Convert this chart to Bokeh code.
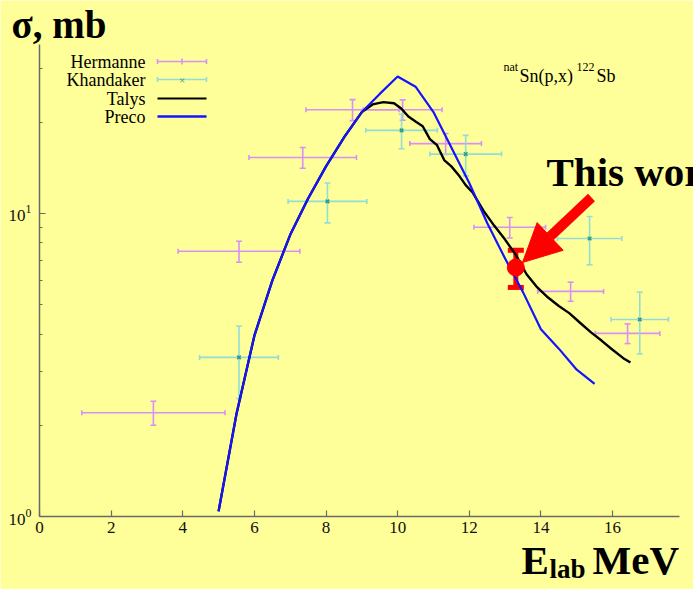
import math
from bokeh.plotting import figure
from bokeh.models import (Range1d, FixedTicker, LogTickFormatter, Whisker, TeeHead,
                          ColumnDataSource, Label, Arrow, NormalHead)
from bokeh.embed import file_html
from bokeh.resources import INLINE

# ---------------- data ----------------
talys_e = [5.0, 5.5, 6.0, 6.5, 7.0, 7.5, 8.0, 8.5, 9.0, 9.3, 9.6, 9.9, 10.1, 10.3, 10.5,
           10.7, 10.9, 11.1, 11.3, 11.5, 11.7, 11.9, 12.1, 12.4, 12.7, 13.0, 13.3, 13.6,
           13.9, 14.2, 14.5, 14.8, 15.1, 15.4, 15.7, 16.0, 16.3, 16.5]
talys_xs = [1.04, 2.18, 3.95, 6.0, 8.5, 11.2, 14.3, 17.8, 21.6, 22.9, 23.3, 23.1, 22.2, 20.9, 20.1,
            19.4, 17.6, 16.8, 15.0, 14.3, 13.4, 12.4, 11.7, 10.2, 9.1, 8.2, 7.3, 6.3,
            5.7, 5.28, 4.95, 4.68, 4.35, 4.05, 3.8, 3.55, 3.33, 3.22]

preco_e = [5.0, 5.5, 6.0, 6.5, 7.0, 7.5, 8.0, 8.5, 9.0, 9.5, 10.0, 10.5, 11.0, 11.5,
           12.0, 12.5, 13.0, 13.5, 14.0, 14.5, 15.0, 15.5]
preco_xs = [1.04, 2.18, 3.95, 6.0, 8.5, 11.2, 14.3, 17.8, 21.6, 24.8, 28.3, 26.2, 21.6, 16.5,
            12.6, 9.3, 7.1, 5.5, 4.15, 3.58, 3.05, 2.74]

herm_e = [3.18, 5.57, 7.35, 8.74, 10.14, 11.34, 13.13, 14.83, 16.42]
herm_de = [2.0, 1.7, 1.5, 1.3, 1.1, 1.0, 1.0, 0.92, 0.9]
herm_xs = [2.2, 7.5, 15.3, 22.0, 22.0, 17.0, 9.0, 5.53, 4.02]
herm_dxs = [0.2, 0.6, 1.2, 1.75, 1.7, 1.35, 0.7, 0.4, 0.3]

khan_e = [5.57, 8.04, 10.11, 11.9, 15.36, 16.76]
khan_de = [1.1, 1.1, 1.0, 1.0, 0.9, 0.8]
khan_xs = [3.35, 10.96, 18.8, 15.7, 8.27, 4.47]
khan_dxs = [0.9, 1.65, 2.45, 2.4, 1.5, 1.03]

this_e = [13.3]
this_xs = [6.63]
this_dxs = [0.93]

x_ticks = [0, 2, 4, 6, 8, 10, 12, 14, 16]
y_ticks = [1, 10]
y_minor = [2, 3, 4, 5, 6, 7, 8, 9, 20, 30]

legend_names = ["Hermanne", "Khandaker", "Talys", "Preco"]

# ---------------- style / layout ----------------
BG = "#FFFF99"
HERM_C = "#d890f8"
KHAN_C = "#94dcd8"
KHAN_M = "#2e9c7a"
PRECO_C = "#1414ff"
RED = "#FF0000"
SERIF = "Liberation Serif"
W, H = 693, 589

X_MAX = 17.87
Y_MAX = 36.1
FL, FR, FT, FB = 39, 679, 44, 516          # pixel box of the axes
PX_X = (FR - FL) / X_MAX
PX_DEC = (FB - FT) / math.log10(Y_MAX)


def dx(px):
    return (px - FL) / PX_X


def dy(py):
    return 10 ** ((FB - py) / PX_DEC)


# the frame covers the whole canvas; the axes sit at fixed data locations
p = figure(width=W, height=H, x_range=Range1d(dx(0), dx(W)), y_range=Range1d(dy(H), dy(0)),
           y_axis_type="log", output_backend="svg", toolbar_location=None,
           min_border=0, background_fill_color=BG, border_fill_color=BG,
           outline_line_color=None)
p.grid.visible = False

xa, ya = p.xaxis[0], p.yaxis[0]
xa.fixed_location = 1
ya.fixed_location = 0
xa.bounds = (0, X_MAX)
ya.bounds = (1, Y_MAX)

for ax in (xa, ya):
    ax.axis_line_color = "#6a6a6a"
    ax.axis_line_width = 1.5
    ax.major_tick_line_color = "#6a6a6a"
    ax.major_tick_line_width = 1.2
    ax.minor_tick_line_color = "#6a6a6a"
    ax.major_tick_in = 6
    ax.major_tick_out = 0
    ax.minor_tick_in = 3
    ax.minor_tick_out = 0
    ax.major_label_text_font = SERIF
    ax.major_label_text_font_size = "17px"
    ax.major_label_text_color = "#111111"

xa.ticker = FixedTicker(ticks=x_ticks, minor_ticks=[])
xa.major_label_standoff = 5
ya.ticker = FixedTicker(ticks=y_ticks, minor_ticks=y_minor)
ya.formatter = LogTickFormatter()
ya.major_label_standoff = 8

# ---------------- error bars ----------------
def add_errbars(e, de, xs, dxs, color, cap):
    src = ColumnDataSource(dict(
        x=e, y=xs,
        xl=[a - b for a, b in zip(e, de)], xh=[a + b for a, b in zip(e, de)],
        yl=[a - b for a, b in zip(xs, dxs)], yh=[a + b for a, b in zip(xs, dxs)]))
    wh = Whisker(source=src, base="y", lower="xl", upper="xh", dimension="width",
                 line_color=color, line_width=1.6, level="underlay",
                 lower_head=TeeHead(size=cap, line_color=color, line_width=1.6),
                 upper_head=TeeHead(size=cap, line_color=color, line_width=1.6))
    wv = Whisker(source=src, base="x", lower="yl", upper="yh", dimension="height",
                 line_color=color, line_width=1.6, level="underlay",
                 lower_head=TeeHead(size=cap + 1, line_color=color, line_width=1.6),
                 upper_head=TeeHead(size=cap + 1, line_color=color, line_width=1.6))
    p.add_layout(wh)
    p.add_layout(wv)
    return src


add_errbars(herm_e, herm_de, herm_xs, herm_dxs, HERM_C, 5)
ksrc = add_errbars(khan_e, khan_de, khan_xs, khan_dxs, KHAN_C, 5)
p.scatter("x", "y", source=ksrc, marker="x", size=5, line_color=KHAN_M, line_width=1.5)

# ---------------- model curves ----------------
p.line(talys_e, talys_xs, line_color="black", line_width=2.4)
p.line(preco_e, preco_xs, line_color=PRECO_C, line_width=2.2)

# ---------------- this work ----------------
tsrc = ColumnDataSource(dict(x=this_e, y=this_xs,
                             yl=[a - b for a, b in zip(this_xs, this_dxs)],
                             yh=[a + b for a, b in zip(this_xs, this_dxs)]))
p.scatter("x", "y", source=tsrc, marker="circle", size=17, fill_color=RED, line_color=RED)
p.add_layout(Whisker(source=tsrc, base="x", lower="yl", upper="yh", dimension="height",
                     line_color=RED, line_width=5,
                     lower_head=TeeHead(size=16, line_color=RED, line_width=5),
                     upper_head=TeeHead(size=16, line_color=RED, line_width=5)))

p.add_layout(Arrow(x_start=dx(591), y_start=dy(197), x_end=dx(522), y_end=dy(262),
                   line_color=RED, line_width=10,
                   end=NormalHead(size=38, fill_color=RED, line_color=RED)))

# ---------------- texts ----------------
def lab(text, px, py, size, bold=False, align="left", baseline="alphabetic", color="black"):
    p.add_layout(Label(x=dx(px), y=dy(py), text=text, text_font=SERIF,
                       text_font_size=f"{size}px",
                       text_font_style="bold" if bold else "normal",
                       text_align=align, text_baseline=baseline, text_color=color))


lab("σ, mb", 11, 24, 39, bold=True)
lab("This work", 546, 171, 41, bold=True)
lab("E", 521, 559, 41, bold=True)
lab("lab", 549, 568, 27, bold=True)
lab("MeV", 592, 559, 41, bold=True)

lab("nat", 503, 66, 12)
lab("Sn(p,x)", 519, 75, 18)
lab("122", 576, 66, 12)
lab("Sb", 596, 75, 18)

# ---------------- legend (text left, key right) ----------------
rows = [61, 79, 98, 116]
for name, ry in zip(legend_names, rows):
    lab(name, 145, ry, 18, align="right", baseline="middle")

for ry, col in ((rows[0], HERM_C), (rows[1], KHAN_C)):
    p.add_layout(Arrow(x_start=dx(157), y_start=dy(ry), x_end=dx(206), y_end=dy(ry),
                       line_color=col, line_width=1.6,
                       start=TeeHead(size=5, line_color=col, line_width=1.6),
                       end=TeeHead(size=5, line_color=col, line_width=1.6)))
p.add_layout(Arrow(x_start=dx(181.5), y_start=dy(rows[0] - 3), x_end=dx(181.5), y_end=dy(rows[0] + 3),
                   line_color=HERM_C, line_width=1.6, end=None))
lab("×", 181.5, rows[1], 11, align="center", baseline="middle", color=KHAN_M)
p.add_layout(Arrow(x_start=dx(157), y_start=dy(rows[2]), x_end=dx(206), y_end=dy(rows[2]),
                   line_color="black", line_width=2.2, end=None))
p.add_layout(Arrow(x_start=dx(157), y_start=dy(rows[3]), x_end=dx(206), y_end=dy(rows[3]),
                   line_color=PRECO_C, line_width=2.6, end=None))

open("out.html", "w").write(file_html(p, INLINE))
